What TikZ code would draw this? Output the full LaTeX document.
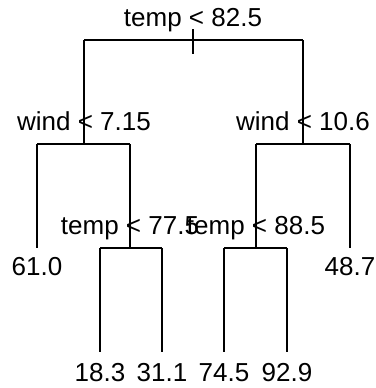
\documentclass[tikz,border=0pt]{standalone}
\usepackage{fontspec}
\setmainfont{Liberation Sans}
\begin{document}
\begin{tikzpicture}[x=1pt,y=-1pt,
  edge/.style={line width=1.6pt, line cap=butt},
  lbl/.style={font=\fontsize{26}{30}\selectfont, anchor=base, inner sep=0pt}]
\useasboundingbox (0,0) rectangle (375,388);
% tree coordinates
\coordinate (rl) at (84,40);
\coordinate (rr) at (303,40);
\coordinate (t1) at (193,29);
\coordinate (t2) at (193,54);
\coordinate (a) at (84,144);
\coordinate (al) at (37,144);
\coordinate (ar) at (130,144);
\coordinate (b) at (303,144);
\coordinate (bl) at (256,144);
\coordinate (br) at (350,144);
\coordinate (l1) at (37,248);
\coordinate (c) at (130,248);
\coordinate (cl) at (100,248);
\coordinate (cr) at (162,248);
\coordinate (d) at (256,248);
\coordinate (dl) at (224,248);
\coordinate (dr) at (287,248);
\coordinate (l6) at (350,248);
\coordinate (l2) at (100,352);
\coordinate (l3) at (162,352);
\coordinate (l4) at (224,352);
\coordinate (l5) at (287,352);
% edges
\draw[edge] (rl) -- (rr);
\draw[edge] (t1) -- (t2);
\draw[edge] (rl) -- (a);
\draw[edge] (rr) -- (b);
\draw[edge] (al) -- (ar);
\draw[edge] (bl) -- (br);
\draw[edge] (al) -- (l1);
\draw[edge] (ar) -- (c);
\draw[edge] (bl) -- (d);
\draw[edge] (br) -- (l6);
\draw[edge] (cl) -- (cr);
\draw[edge] (dl) -- (dr);
\draw[edge] (cl) -- (l2);
\draw[edge] (cr) -- (l3);
\draw[edge] (dl) -- (l4);
\draw[edge] (dr) -- (l5);
% split labels
\node[lbl] (s0) at (193,27) {temp < 82.5};
\node[lbl] (s1) at (84,130) {wind < 7.15};
\node[lbl] (s2) at (303,130) {wind < 10.6};
\node[lbl] (s3) at (130,234) {temp < 77.5};
\node[lbl] (s4) at (256,234) {temp < 88.5};
% leaf labels
\node[lbl] (v1) at (37,275) {61.0};
\node[lbl] (v6) at (350,275) {48.7};
\node[lbl] (v2) at (100,381) {18.3};
\node[lbl] (v3) at (162,381) {31.1};
\node[lbl] (v4) at (224,381) {74.5};
\node[lbl] (v5) at (287,381) {92.9};
\end{tikzpicture}
\end{document}
